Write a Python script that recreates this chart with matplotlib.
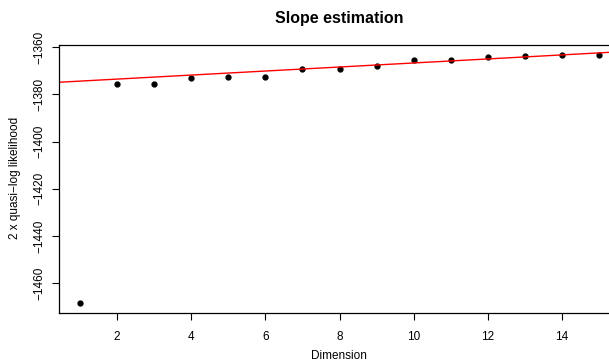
import matplotlib
matplotlib.use('Agg')
import matplotlib.pyplot as plt
import numpy as np

# Data
dimension = [1, 2, 3, 4, 5, 6, 7, 8, 9, 10, 11, 12, 13, 14, 15]
loglik = [-1468.4, -1375.5, -1375.5, -1372.9, -1372.8, -1372.6, -1369.2,
          -1369.2, -1368.1, -1365.5, -1365.5, -1364.1, -1363.7, -1363.4, -1363.1]
fit_intercept = -1375.2
fit_slope = 0.856
xticks = [2, 4, 6, 8, 10, 12, 14]
yticks = [-1460, -1440, -1420, -1400, -1380, -1360]

plt.rcParams['font.family'] = ['Liberation Sans', 'DejaVu Sans']

fig = plt.figure(figsize=(6.09, 3.62), dpi=100)
# plot region runs past the right edge of the image, as in the reference
ax = fig.add_axes([59 / 609, 1 - 312.7 / 362, (620 - 59) / 609, 268 / 362])

ax.plot(dimension, loglik, 'o', color='black', markersize=3.5)
ax.axline((0, fit_intercept), slope=fit_slope, color='red', linewidth=1)

# R style 4% padding
xr = max(dimension) - min(dimension)
yr = max(loglik) - min(loglik)
ax.set_xlim(min(dimension) - 0.04 * xr, max(dimension) + 0.04 * xr)
ax.set_ylim(min(loglik) - 0.04 * yr, max(loglik) + 0.04 * yr)

ax.set_xticks(xticks)
ax.set_yticks(yticks)
ax.tick_params(axis='both', direction='out', length=5, width=0.8, labelsize=8.5)
ax.tick_params(axis='x', pad=8)
ax.tick_params(axis='y', pad=5)
for lab in ax.get_yticklabels():
    lab.set_rotation(90)
    lab.set_va('center')

for s in ax.spines.values():
    s.set_linewidth(0.9)

fig.text(339 / 609, 1 - 356 / 362, 'Dimension', ha='center', va='center', fontsize=8.5)
fig.text(15 / 609, 1 - 178 / 362, '2 x quasi\u2212log likelihood', ha='center',
         va='center', rotation=90, fontsize=8.5)
fig.text(339 / 609, 1 - 18 / 362, 'Slope estimation', ha='center', va='center',
         fontsize=11.5, fontweight='bold')

fig.savefig('out.png', dpi=100)
